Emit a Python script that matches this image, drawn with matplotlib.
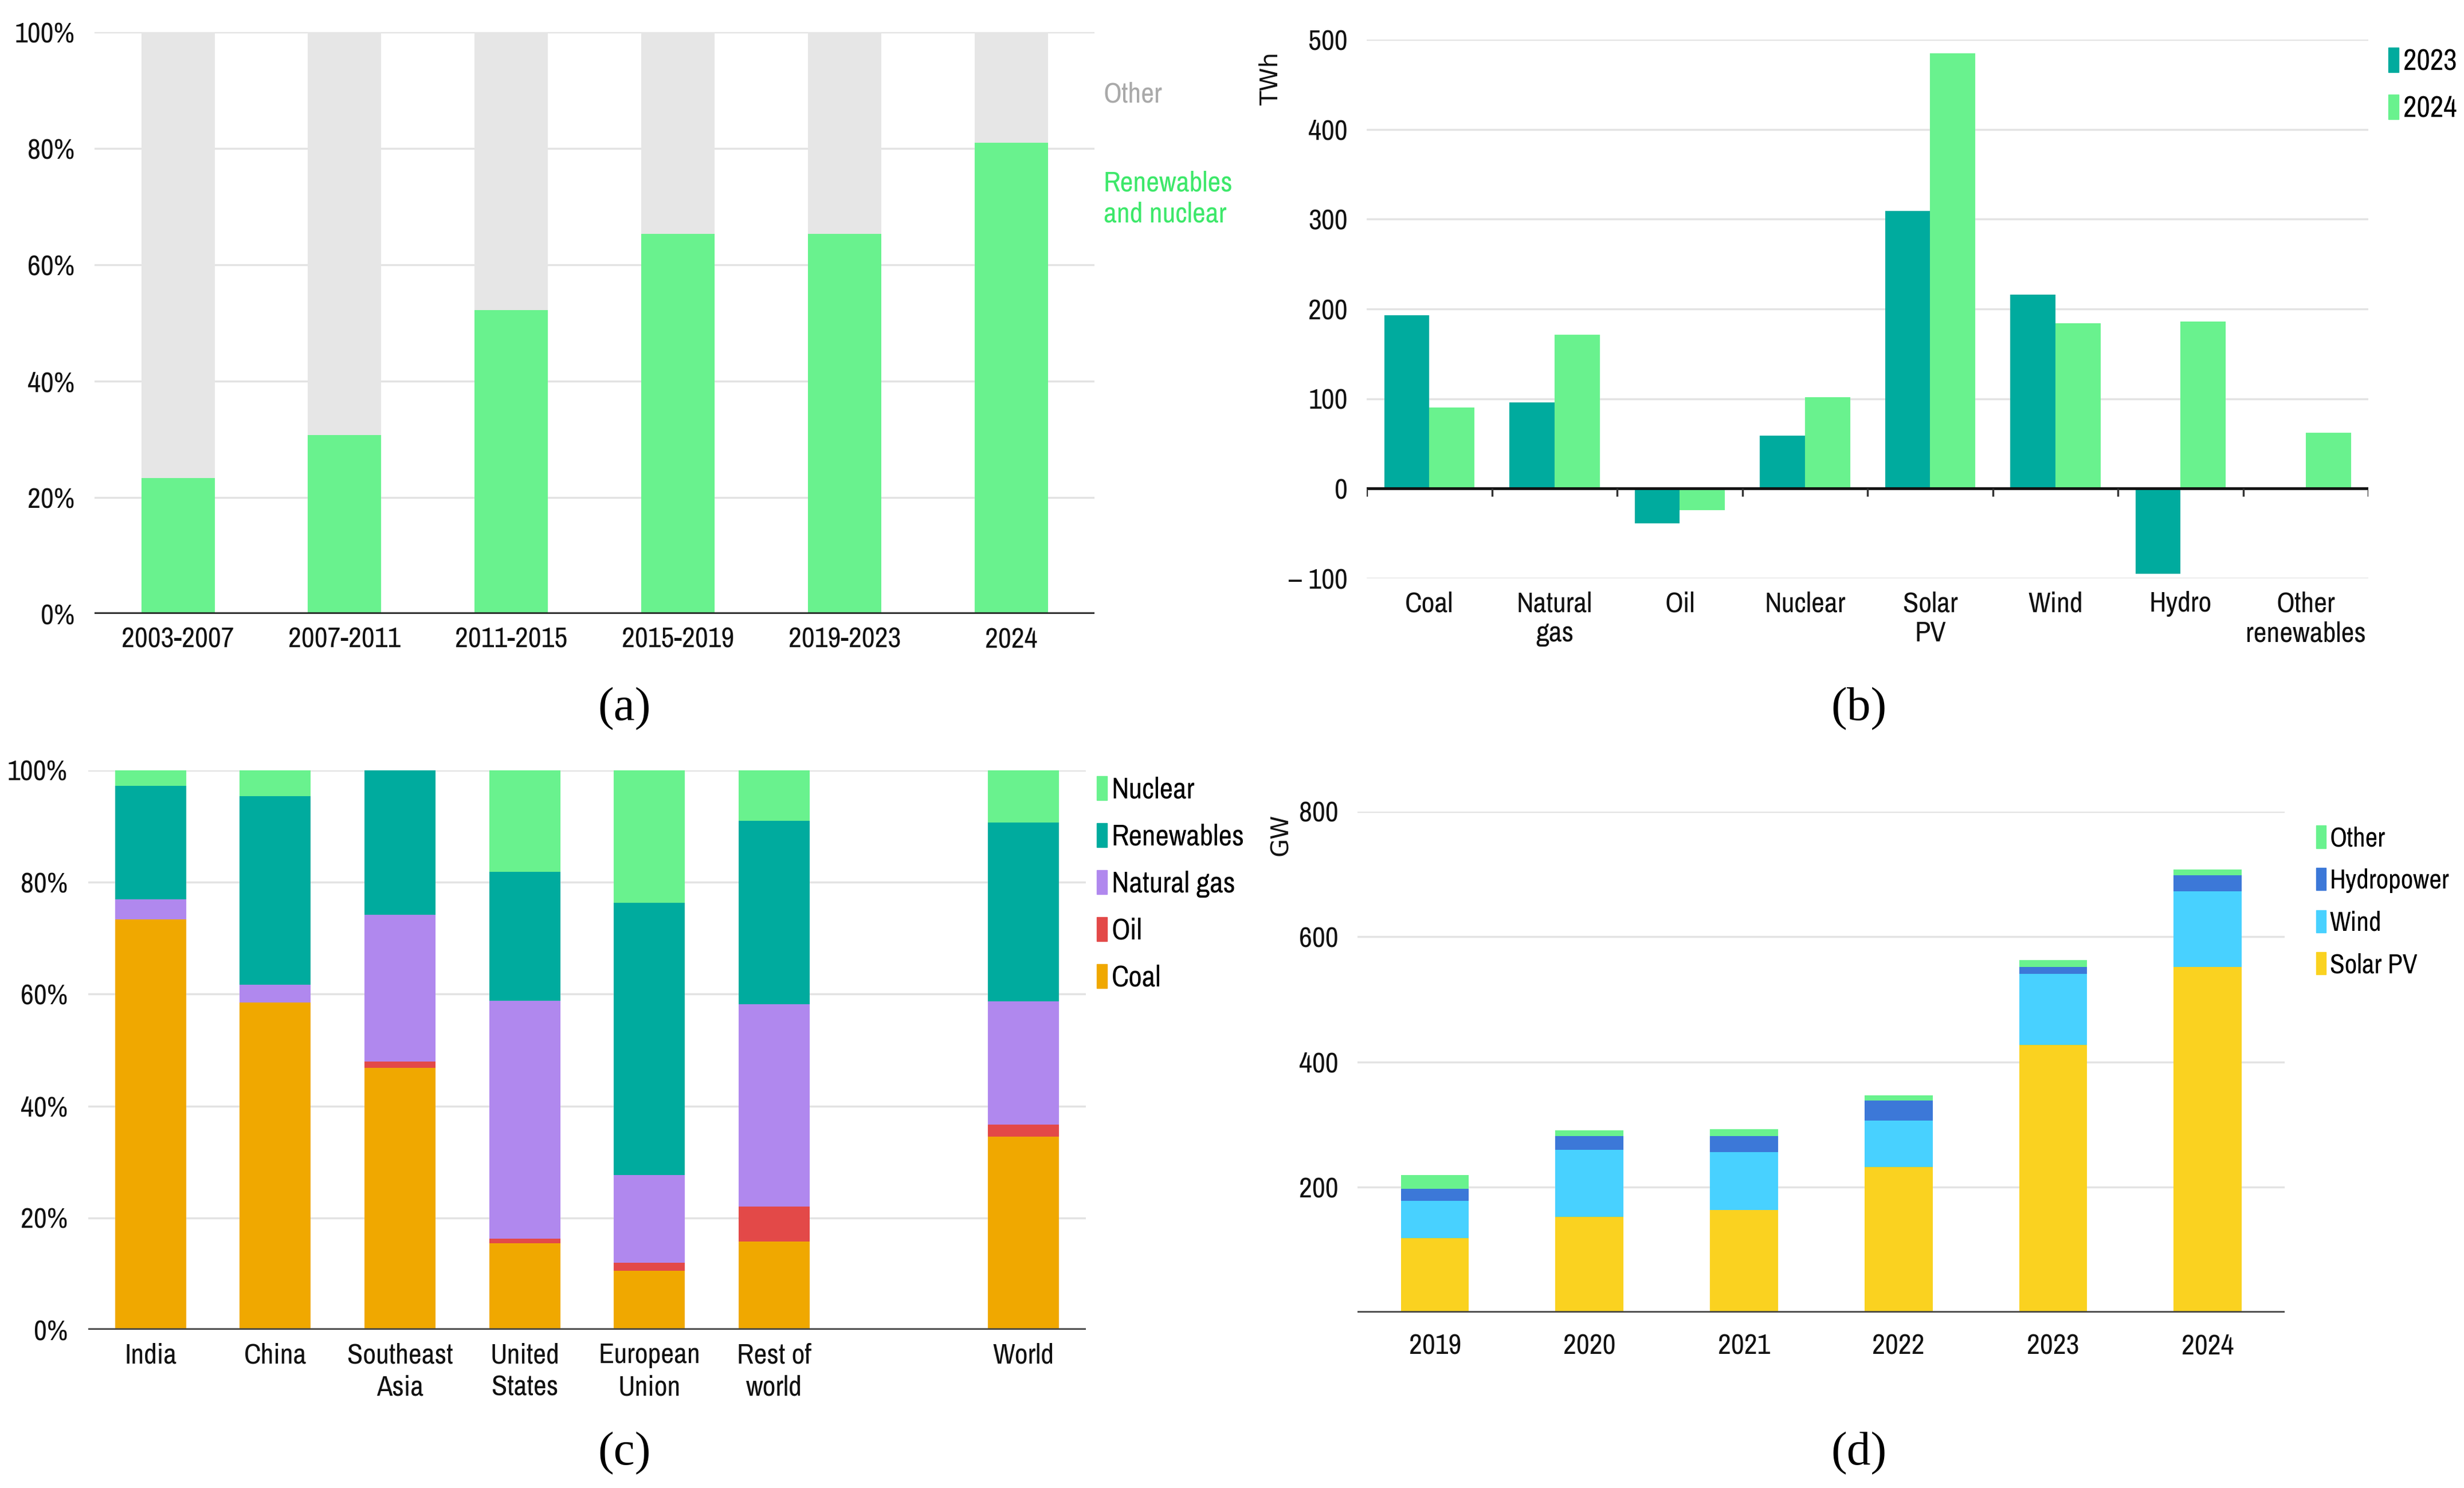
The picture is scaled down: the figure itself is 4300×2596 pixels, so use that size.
import numpy as np
import matplotlib.pyplot as plt
from matplotlib import font_manager
from matplotlib.patches import Patch

# the reference uses a narrow sans; take one if there is one installed
names = sorted({f.name for f in font_manager.fontManager.ttflist})
narrow = [n for n in names if ('Narrow' in n or 'Condensed' in n) and 'Serif' not in n and 'Mono' not in n]
if narrow:
    MAIN = narrow[0]
    k = 1.0
else:
    MAIN = 'Liberation Sans'
    k = 0.86
plt.rcParams['font.family'] = [MAIN, 'DejaVu Sans']

# panel (a)
periods = ['2003-2007', '2007-2011', '2011-2015', '2015-2019', '2019-2023', '2024']
renew_nuc = [23.4, 30.7, 52.2, 65.3, 65.3, 81.0]
other_share = [76.6, 69.3, 47.8, 34.7, 34.7, 19.0]

# panel (b)
sources = ['Coal', 'Natural\ngas', 'Oil', 'Nuclear', 'Solar\nPV', 'Wind', 'Hydro', 'Other\nrenewables']
growth_2023 = [193, 96, -39, 59, 309, 216, -95, 0]
growth_2024 = [90, 171, -24, 102, 485, 184, 186, 62]

# panel (c)
regions = ['India', 'China', 'Southeast\nAsia', 'United\nStates', 'European\nUnion', 'Rest of\nworld', 'World']
region_pos = [0, 1, 2, 3, 4, 5, 7]
coal = [73.4, 58.5, 46.8, 15.5, 10.6, 15.8, 34.5]
oil = [0.0, 0.0, 1.1, 0.8, 1.4, 6.2, 2.2]
gas = [3.5, 3.2, 26.3, 42.5, 15.7, 36.2, 22.0]
renewables = [20.3, 33.7, 25.8, 23.1, 48.6, 32.8, 32.0]
nuclear = [2.8, 4.6, 0.0, 18.1, 23.7, 9.0, 9.3]

# panel (d)
years = ['2019', '2020', '2021', '2022', '2023', '2024']
solar_pv = [119, 153, 164, 232, 427, 552]
wind = [59, 107, 92, 75, 114, 121]
hydropower = [20, 22, 26, 32, 11, 25]
other_cap = [22, 9, 11, 8, 11, 9]

GREEN = '#69F28E'
TEAL = '#00AB9E'
GREY = '#E6E6E6'
PURPLE = '#B088EE'
RED = '#E34948'
ORANGE = '#F0A800'
YELLOW = '#FAD220'
LIGHTBLUE = '#48D1FF'
BLUE = '#3C78D8'
TXT = '#111111'
FS = 36 * k

fig = plt.figure(figsize=(43, 25.96), dpi=100)
fig.patch.set_facecolor('white')


def style(ax):
    for s in ax.spines.values():
        s.set_visible(False)
    ax.set_axisbelow(True)
    ax.yaxis.grid(True, color='#e3e3e3', lw=2.5)
    ax.tick_params(axis='both', length=0, labelsize=FS, colors=TXT)


# (a)
ax1 = fig.add_axes([0.0384, 0.5874, 0.4058, 0.391])
style(ax1)
x = np.arange(len(periods))
ax1.bar(x, renew_nuc, width=0.44, color=GREEN)
ax1.bar(x, other_share, width=0.44, bottom=renew_nuc, color=GREY)
ax1.set_xlim(-0.5, 5.5)
ax1.set_ylim(0, 100)
ax1.set_yticks([0, 20, 40, 60, 80, 100])
ax1.set_yticklabels([f'{v}%' for v in range(0, 101, 20)])
ax1.set_xticks(x)
ax1.set_xticklabels(periods)
ax1.tick_params(axis='y', pad=25)
ax1.tick_params(axis='x', pad=16)
ax1.axhline(0, color='#222222', lw=4)
ax1.text(1.009, 0.893, 'Other', transform=ax1.transAxes, fontsize=FS,
         color='#a9a9a9', ha='left', va='center')
ax1.text(1.009, 0.713, 'Renewables\nand nuclear', transform=ax1.transAxes, fontsize=FS,
         color='#3de86a', ha='left', va='center', linespacing=1.25)

# (b)
ax2 = fig.add_axes([0.5547, 0.6113, 0.4065, 0.3621])
style(ax2)
x = np.arange(len(sources))
ax2.bar(x - 0.18, growth_2023, width=0.36, color=TEAL, label='2023')
ax2.bar(x + 0.18, growth_2024, width=0.36, color=GREEN, label='2024')
ax2.set_xlim(-0.5, len(sources) - 0.5)
ax2.set_ylim(-100, 500)
ax2.set_yticks([-100, 0, 100, 200, 300, 400, 500])
ax2.set_yticklabels(['– 100', '0', '100', '200', '300', '400', '500'])
ax2.set_xticks(x)
ax2.set_xticklabels(sources, linespacing=1.2, va='top')
ax2.tick_params(axis='y', pad=24)
ax2.tick_params(axis='x', pad=16)
ax2.axhline(0, color='#111111', lw=3.5)
ax2.vlines(np.arange(len(sources) + 1) - 0.5, -9, 0, color='#333333', lw=2.5)
ax2.text(-0.0955, 0.927, 'TWh', transform=ax2.transAxes, rotation=90,
         fontsize=30, family='DejaVu Sans', ha='center', va='center', color=TXT)
ax2.legend(handles=[Patch(color=TEAL, label='2023'), Patch(color=GREEN, label='2024')],
           loc='upper left', bbox_to_anchor=(1.02, 0.985), frameon=False,
           fontsize=37 * k, handlelength=0.35, handleheight=0.9, handletextpad=0.15,
           labelspacing=0.66, borderpad=0, borderaxespad=0)

# (c)
ax3 = fig.add_axes([0.0358, 0.1063, 0.4049, 0.376])
style(ax3)
stack = [('Coal', coal, ORANGE), ('Oil', oil, RED), ('Natural gas', gas, PURPLE),
         ('Renewables', renewables, TEAL), ('Nuclear', nuclear, GREEN)]
bottom = np.zeros(len(regions))
for name, vals, col in stack:
    ax3.bar(region_pos, vals, width=0.57, bottom=bottom, color=col)
    bottom += np.array(vals)
ax3.set_xlim(-0.5, 7.5)
ax3.set_ylim(0, 100)
ax3.set_yticks([0, 20, 40, 60, 80, 100])
ax3.set_yticklabels([f'{v}%' for v in range(0, 101, 20)])
ax3.set_xticks(region_pos)
ax3.set_xticklabels(regions, linespacing=1.3, va='top')
ax3.tick_params(axis='y', pad=26)
ax3.tick_params(axis='x', pad=16)
ax3.axhline(0, color='#444444', lw=4)
ax3.legend(handles=[Patch(color=c, label=n) for n, v, c in stack[::-1]],
           loc='upper left', bbox_to_anchor=(1.011, 0.99), frameon=False,
           fontsize=37 * k, handlelength=0.35, handleheight=0.9, handletextpad=0.15,
           labelspacing=0.66, borderpad=0, borderaxespad=0)

# (d)
ax4 = fig.add_axes([0.551, 0.1179, 0.3763, 0.3367])
style(ax4)
x = np.arange(len(years))
cap_stack = [('Solar PV', solar_pv, YELLOW), ('Wind', wind, LIGHTBLUE),
             ('Hydropower', hydropower, BLUE), ('Other', other_cap, GREEN)]
bottom = np.zeros(len(years))
for name, vals, col in cap_stack:
    ax4.bar(x, vals, width=0.44, bottom=bottom, color=col)
    bottom += np.array(vals)
ax4.set_xlim(-0.5, 5.5)
ax4.set_ylim(0, 800)
ax4.set_yticks([200, 400, 600, 800])
ax4.set_xticks(x)
ax4.set_xticklabels(years)
ax4.tick_params(axis='y', pad=24)
ax4.tick_params(axis='x', pad=26)
ax4.axhline(0, color='#444444', lw=4)
ax4.text(-0.083, 0.954, 'GW', transform=ax4.transAxes, rotation=90,
         fontsize=30, family='DejaVu Sans', ha='center', va='center', color=TXT)
ax4.legend(handles=[Patch(color=c, label=n) for n, v, c in cap_stack[::-1]],
           loc='upper left', bbox_to_anchor=(1.034, 0.972), frameon=False,
           fontsize=34 * k, handlelength=0.35, handleheight=0.9, handletextpad=0.15,
           labelspacing=0.63, borderpad=0, borderaxespad=0)

# captions
for lab, cx, cy in [('(a)', 0.2533, 0.5235), ('(b)', 0.7544, 0.5235),
                    ('(c)', 0.2533, 0.0231), ('(d)', 0.7544, 0.0231)]:
    fig.text(cx, cy, lab, fontsize=60, family='Liberation Serif',
             ha='center', va='center', color='black')

fig.savefig('out.png', dpi=100, facecolor='white')
